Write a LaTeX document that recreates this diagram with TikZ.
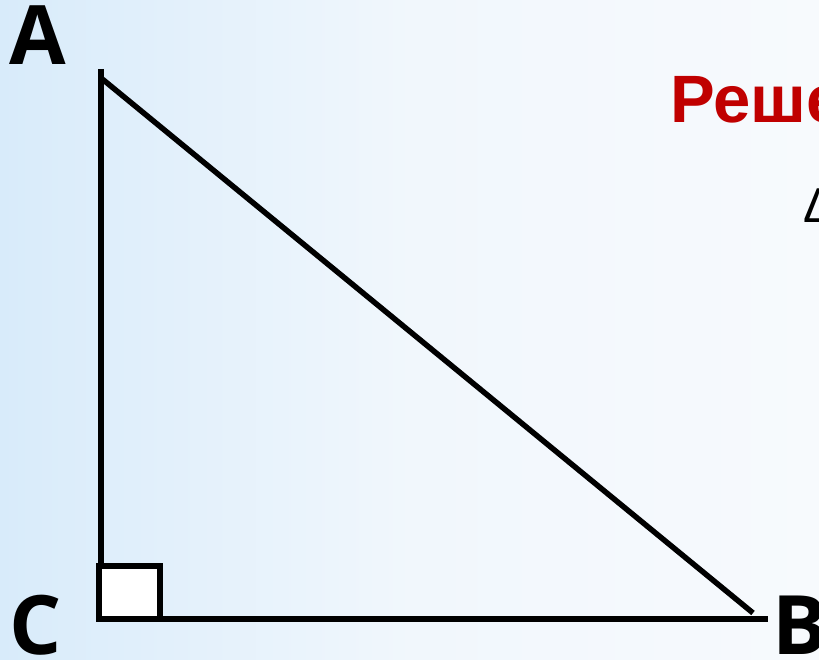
\documentclass[tikz,border=0pt]{standalone}
\usepackage{fontspec}
\setmainfont{Liberation Sans}
\newfontfamily\lblfont{Open Sans}
\usetikzlibrary{positioning,calc}
\definecolor{bgleft}{RGB}{216,235,250}
\definecolor{bgright}{RGB}{247,250,253}
\definecolor{redtitle}{RGB}{192,0,0}

\begin{document}
\begin{tikzpicture}[
    x=1pt, y=-1pt,
    side/.style={line width=5.5pt, draw=black},
    vlbl/.style={font=\lblfont\bfseries\fontsize{82}{82}\selectfont, inner sep=0pt, anchor=base west},
    title/.style={font=\bfseries\fontsize{67}{67}\selectfont, text=redtitle, inner sep=0pt, anchor=base west},
    txt/.style={font=\fontsize{49}{49}\selectfont, inner sep=0pt, anchor=base west}
]
% --- background ---
\useasboundingbox (0,0) rectangle (819,660);
\clip (0,0) rectangle (819,660);
\shade[left color=bgleft, right color=bgright, middle color=bgright!80!bgleft] (0,0) rectangle (819,660);

% --- vertices ---
\coordinate (ctop) at (101,69);
\coordinate (a) at (101,78);
\coordinate (c) at (101,619);
\coordinate (cl) at (97,619);
\coordinate (bend) at (768,619);
\coordinate (b) at (753,613);

% --- sides ---
\draw[side] (ctop) -- (c);
\draw[side] (cl) -- (bend);
\draw[side] (a) -- (b);

% right angle mark
\draw[side, fill=white] (99,566) rectangle (160,619);

% --- labels ---
\node[vlbl] (lA) at (9,65) {A};
\node[vlbl] (lC) at (9,654) {C};
\node[vlbl] (lB) at (772,654) {B};

% --- text on the right ---
\node[title] (sol) at (670,123) {Реше};
\node[txt] (tri) at (803,223) {Δ};

\end{tikzpicture}
\end{document}
